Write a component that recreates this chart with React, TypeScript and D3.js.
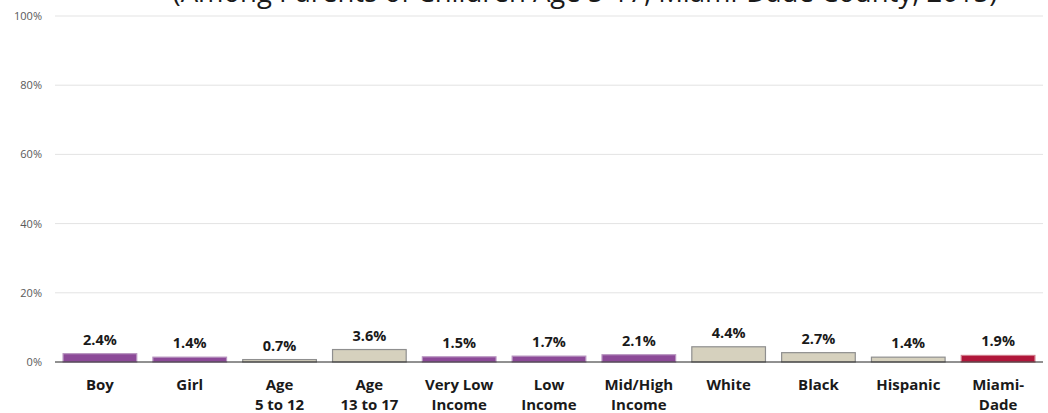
import React from "react";
import * as d3 from "d3";

const categories: string[][] = [
  ["Boy"], ["Girl"], ["Age", "5 to 12"], ["Age", "13 to 17"], ["Very Low", "Income"],
  ["Low", "Income"], ["Mid/High", "Income"], ["White"], ["Black"], ["Hispanic"], ["Miami-", "Dade"],
];
const values: number[] = [2.4, 1.4, 0.7, 3.6, 1.5, 1.7, 2.1, 4.4, 2.7, 1.4, 1.9];
const groups: string[] = ["p", "p", "b", "b", "p", "p", "p", "b", "b", "b", "r"];
const yTicks: number[] = [0, 20, 40, 60, 80, 100];
const subtitle = "(Among Parents of Children Age 5-17, Miami-Dade County, 2015)";

const fills: Record<string, string> = { p: "#8C4A98", b: "#D6D1BE", r: "#B0163A" };
const strokes: Record<string, string> = { p: "#B794BF", b: "#8F8F8F", r: "#D07A8A" };

export default function App() {
  const W = 1048, H = 413;
  const left = 55, right = 1043, top = 16, bottom = 362;
  const x = d3.scaleBand<number>().domain(d3.range(values.length)).range([left, right]).paddingInner(0.18).paddingOuter(0.09);
  const y = d3.scaleLinear().domain([0, 100]).range([bottom, top]);
  const font = "'Open Sans', 'Noto Sans', sans-serif";
  return (
    <svg width={W} height={H} style={{ position: "absolute", left: 0, top: 0 }} fontFamily={font}>
      <text x={585} y={2} textAnchor="middle" fontSize={27.5} fill="#1a1a1a">{subtitle}</text>
      {yTicks.map((t) => (
        <g key={t}>
          {t > 0 && <line x1={left} x2={right} y1={y(t)} y2={y(t)} stroke="#E3E3E3" strokeWidth={1} />}
          <text x={42} y={y(t) + 4} textAnchor="end" fontSize={11} fill="#595959">{t}%</text>
        </g>
      ))}
      {values.map((v, i) => (
        <g key={i}>
          <rect x={x(i)!} y={y(v)} width={x.bandwidth()} height={bottom - y(v)}
            fill={fills[groups[i]]} stroke={strokes[groups[i]]} strokeWidth={1.2} />
          <text x={x(i)! + x.bandwidth() / 2} y={y(v) - 9} textAnchor="middle" fontSize={14.5} fontWeight="bold" fill="#1a1a1a">{v.toFixed(1)}%</text>
          {categories[i].map((line, j) => (
            <text key={j} x={x(i)! + x.bandwidth() / 2} y={390 + j * 20} textAnchor="middle" fontSize={15} fontWeight="bold" fill="#1a1a1a">{line}</text>
          ))}
        </g>
      ))}
      <line x1={left} x2={right} y1={bottom} y2={bottom} stroke="#222" strokeWidth={1} />
    </svg>
  );
}
